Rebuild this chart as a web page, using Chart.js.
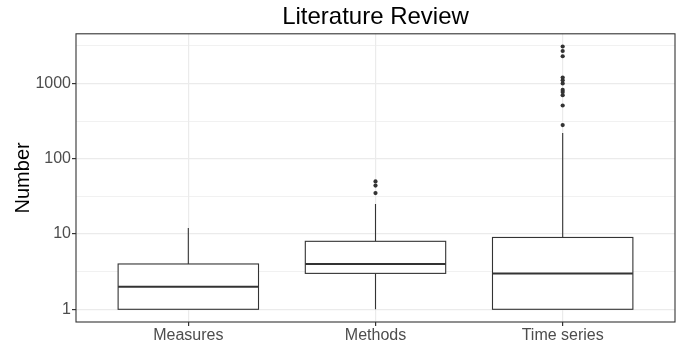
<!DOCTYPE html>
<html>
<head>
<meta charset="utf-8">
<script src="https://cdn.jsdelivr.net/npm/chart.js@4/dist/chart.umd.min.js"></script>
<style>
  body { margin: 0; background: #fff; }
  canvas { display: block; }
</style>
</head>
<body>
<canvas id="boxChart" width="680" height="342"></canvas>
<script>
// 데이터
const categories = ['Measures', 'Methods', 'Time series'];
const whiskerLow = [1, 1, 1];
const q1 = [1, 3, 1];
const median = [2, 4, 3];
const q3 = [4, 8, 9];
const whiskerHigh = [12, 25, 220];
const outlierGroup = [2, 2, 2, 3, 3, 3, 3, 3, 3, 3, 3, 3, 3, 3];
const outlierValue = [35, 44, 50, 280, 510, 700, 770, 820, 1000, 1100, 1200, 2300, 2700, 3100];

const majorTicks = [1, 10, 100, 1000];
const minorTicks = [Math.sqrt(10), Math.sqrt(1000), Math.sqrt(100000), Math.sqrt(10000000)];

const FONT = "'Liberation Sans', Arial, sans-serif";
const LINE = '#333333';

// 박스 그리기 플러그인
const boxPlugin = {
  id: 'boxes',
  beforeDatasetsDraw(chart) {
    const { ctx, scales: { x, y } } = chart;
    const half = 0.375;
    ctx.save();
    ctx.strokeStyle = LINE;
    categories.forEach((c, i) => {
      const cx = x.getPixelForValue(i + 1);
      const left = x.getPixelForValue(i + 1 - half);
      const right = x.getPixelForValue(i + 1 + half);
      const top = y.getPixelForValue(q3[i]);
      const bottom = y.getPixelForValue(q1[i]);
      // 수염
      ctx.lineWidth = 1.1;
      ctx.beginPath();
      ctx.moveTo(cx, top);
      ctx.lineTo(cx, y.getPixelForValue(whiskerHigh[i]));
      ctx.moveTo(cx, bottom);
      ctx.lineTo(cx, y.getPixelForValue(whiskerLow[i]));
      ctx.stroke();
      // 박스
      ctx.fillStyle = '#ffffff';
      ctx.fillRect(left, top, right - left, bottom - top);
      ctx.strokeRect(left, top, right - left, bottom - top);
      // 중앙값
      const my = y.getPixelForValue(median[i]);
      ctx.lineWidth = 2;
      ctx.beginPath();
      ctx.moveTo(left, my);
      ctx.lineTo(right, my);
      ctx.stroke();
    });
    ctx.restore();
  },
  afterDatasetsDraw(chart) {
    const { ctx, chartArea: a } = chart;
    ctx.save();
    ctx.strokeStyle = LINE;
    ctx.lineWidth = 1.1;
    ctx.strokeRect(a.left, a.top, a.right - a.left, a.bottom - a.top);
    ctx.restore();
  }
};

const isMajor = v => majorTicks.some(m => Math.abs(m - v) < 1e-6);

new Chart(document.getElementById('boxChart'), {
  type: 'scatter',
  data: {
    datasets: [{
      data: outlierValue.map((v, i) => ({ x: outlierGroup[i], y: v })),
      pointRadius: 2.1,
      pointBackgroundColor: LINE,
      pointBorderWidth: 0
    }]
  },
  options: {
    responsive: false,
    devicePixelRatio: 1,
    animation: false,
    layout: { padding: { right: 5 } },
    plugins: {
      legend: { display: false },
      tooltip: { enabled: false },
      title: {
        display: true,
        fullSize: false,
        text: 'Literature Review',
        color: '#000',
        font: { family: FONT, size: 24, weight: 'normal', lineHeight: 1.2 },
        padding: { top: 3, bottom: 2 }
      }
    },
    scales: {
      x: {
        type: 'linear',
        min: 0.4,
        max: 3.6,
        afterBuildTicks(scale) {
          scale.ticks = categories.map((c, i) => ({ value: i + 1 }));
        },
        afterFit(scale) { scale.height = 20; },
        ticks: {
          callback: v => categories[v - 1],
          color: '#4d4d4d',
          font: { family: FONT, size: 16 },
          padding: 0,
          maxRotation: 0
        },
        grid: { color: '#ebebeb', lineWidth: 1.2, tickLength: 4, tickColor: LINE },
        border: { display: false }
      },
      y: {
        type: 'logarithmic',
        min: 0.678,
        max: 4570,
        afterBuildTicks(scale) {
          scale.ticks = [...majorTicks, ...minorTicks].sort((a, b) => a - b).map(v => ({ value: v }));
        },
        afterFit(scale) { scale.width = 76; },
        ticks: {
          callback: v => (isMajor(v) ? String(Math.round(v)) : ''),
          color: '#4d4d4d',
          font: { family: FONT, size: 16 },
          padding: 1
        },
        grid: {
          color: '#ebebeb',
          lineWidth: ctx => (isMajor(ctx.tick.value) ? 1.2 : 0.7),
          tickLength: 4,
          tickColor: ctx => (isMajor(ctx.tick.value) ? LINE : 'rgba(0,0,0,0)')
        },
        border: { display: false },
        title: {
          display: true,
          text: 'Number',
          color: '#000',
          font: { family: FONT, size: 20, lineHeight: 1.2 },
          padding: { top: 11, bottom: 0 }
        }
      }
    }
  },
  plugins: [boxPlugin]
});
</script>
</body>
</html>
